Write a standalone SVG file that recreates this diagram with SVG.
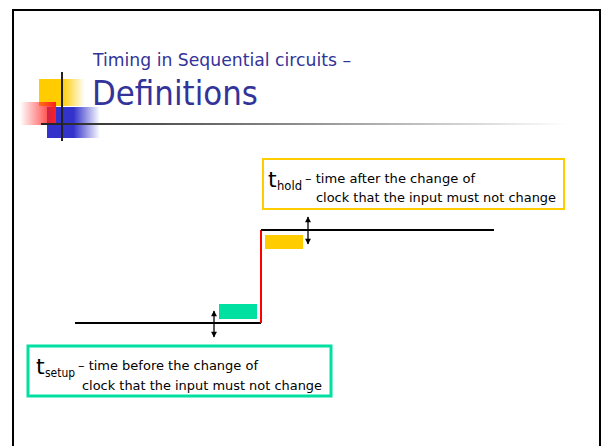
<svg xmlns="http://www.w3.org/2000/svg" width="602" height="446" viewBox="0 0 602 446">
<style>
.t{font-family:Tahoma,"DejaVu Sans","Liberation Sans",sans-serif;fill:#000}
.title{font-family:Tahoma,"DejaVu Sans","Liberation Sans",sans-serif;fill:#333399}
.sig{stroke:#000;stroke-width:2;fill:none}
.arr{stroke:#000;stroke-width:1.3;fill:none;marker-start:url(#ah);marker-end:url(#ah)}
</style>
<defs>
<marker id="ah" viewBox="0 0 10 10" refX="9" refY="5" markerWidth="5" markerHeight="4.5" orient="auto-start-reverse" markerUnits="strokeWidth">
<path d="M0,0 L10,5 L0,10 z" fill="#000"/>
</marker>
<linearGradient id="gy" x1="0" x2="1" y1="0" y2="0">
<stop offset="0.5" stop-color="#FFCC00"/><stop offset="1" stop-color="#FFCC00" stop-opacity="0"/>
</linearGradient>
<linearGradient id="gr" x1="1" x2="0" y1="0" y2="0">
<stop offset="0" stop-color="#FF2020"/><stop offset="1" stop-color="#FF2020" stop-opacity="0"/>
</linearGradient>
<linearGradient id="gb" x1="0" x2="1" y1="0" y2="0">
<stop offset="0.5" stop-color="#3333CC"/><stop offset="1" stop-color="#3333CC" stop-opacity="0"/>
</linearGradient>
<linearGradient id="gl" x1="0" x2="1" y1="0" y2="0">
<stop offset="0" stop-color="#222"/><stop offset="1" stop-color="#fff"/>
</linearGradient>
</defs>
<rect width="602" height="446" fill="#fff"/>
<g id="frame">
<path d="M13,446 V10 H600 V446" fill="none" stroke="#000" stroke-width="2"/>
</g>
<g id="decoration">
<rect x="39" y="79" width="46" height="27" fill="url(#gy)"/>
<rect x="47" y="107" width="53" height="31" fill="url(#gb)"/>
<rect x="20" y="102" width="36" height="23" fill="url(#gr)"/>
<rect x="41" y="123" width="527" height="2" fill="url(#gl)"/>
<line x1="62" y1="72" x2="62" y2="141" stroke="#222" stroke-width="2"/>
</g>
<g id="title">
<text class="title" x="93" y="66" font-size="18" textLength="258" lengthAdjust="spacingAndGlyphs">Timing in Sequential circuits –</text>
<text class="title" x="92" y="105" font-size="33" textLength="166" lengthAdjust="spacingAndGlyphs">Definitions</text>
</g>
<g id="waveform">
<polyline class="sig" points="75,323 261,323"/>
<polyline points="261,323 261,230" stroke="#FF0000" stroke-width="2" fill="none"/>
<polyline class="sig" points="261,230 494,230"/>
</g>
<g id="setup-bar"><rect x="219" y="304" width="38" height="15" fill="#00E0A0"/></g>
<g id="hold-bar"><rect x="265" y="235" width="38" height="14" fill="#FFCC00"/></g>
<g id="connectors">
<line class="arr" x1="214" y1="311" x2="214" y2="337"/>
<line class="arr" x1="308" y1="217" x2="308" y2="244"/>
</g>
<g id="hold-box">
<rect x="263" y="159" width="301" height="50" fill="#fff" stroke="#FFCC00" stroke-width="2"/>
<text class="t" x="268" y="187" font-size="22">t</text>
<text class="t" x="277" y="190" font-size="13" textLength="25" lengthAdjust="spacingAndGlyphs">hold</text>
<text class="t" x="305" y="183" font-size="13" textLength="170" lengthAdjust="spacingAndGlyphs">– time after the change of</text>
<text class="t" x="316" y="202" font-size="13" textLength="240" lengthAdjust="spacingAndGlyphs">clock that the input must not change</text>
</g>
<g id="setup-box">
<rect x="28" y="346" width="303" height="50" fill="#fff" stroke="#00E0A0" stroke-width="3"/>
<text class="t" x="36" y="374" font-size="22">t</text>
<text class="t" x="45" y="377" font-size="13" textLength="30" lengthAdjust="spacingAndGlyphs">setup</text>
<text class="t" x="78" y="370" font-size="13" textLength="180" lengthAdjust="spacingAndGlyphs">– time before the change of</text>
<text class="t" x="82" y="390" font-size="13" textLength="240" lengthAdjust="spacingAndGlyphs">clock that the input must not change</text>
</g>
</svg>
